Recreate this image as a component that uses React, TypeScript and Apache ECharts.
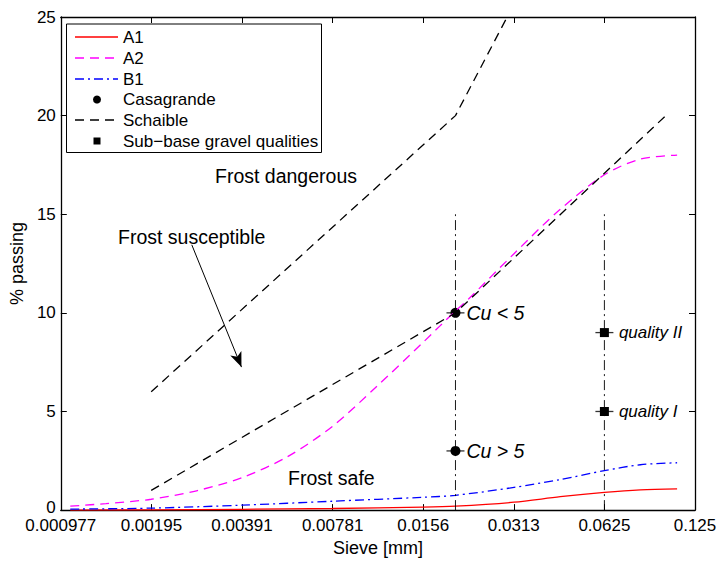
import React, { useEffect, useRef } from "react";
import * as echarts from "echarts";

// Tick labels of the log2 sieve axis (2^-10 ... 2^-3)
const xTickLabels = ["0.000977", "0.00195", "0.00391", "0.00781", "0.0156", "0.0313", "0.0625", "0.125"];

// A2 grading curve
const sieveA2 = [0.00105, 0.00138, 0.00195, 0.00276, 0.00391, 0.00552, 0.00781, 0.011, 0.0156, 0.02, 0.0221, 0.0313, 0.0442, 0.0625, 0.0825, 0.109];
const passingA2 = [0.2, 0.33, 0.55, 0.98, 1.65, 2.7, 4.25, 6.3, 8.5, 10.1, 10.7, 13.0, 15.2, 17.0, 17.8, 18.0];

// A1 and B1 grading curves
const sieveA1B1 = [0.00105, 0.00195, 0.00391, 0.00781, 0.0156, 0.02, 0.0313, 0.0446, 0.0625, 0.0823, 0.109];
const passingA1 = [0, 0.01, 0.04, 0.08, 0.15, 0.2, 0.4, 0.68, 0.9, 1.03, 1.08];
const passingB1 = [0.05, 0.1, 0.25, 0.45, 0.65, 0.75, 1.15, 1.55, 2.0, 2.3, 2.4];

// Casagrande criteria points
const casaSieve = [0.02, 0.02];
const casaPassing = [10, 3];
const casaLabels = ["Cu < 5", "Cu > 5"];

// Sub-base gravel quality points
const qualSieve = [0.0625, 0.0625];
const qualPassing = [9, 5];
const qualLabels = ["quality II", "quality I"];

// Schaible boundary lines
const schUpperSieve = [0.00195, 0.02, 0.0297];
const schUpperPassing = [6, 20, 25];
const schLowerSieve = [0.00195, 0.02, 0.1];
const schLowerPassing = [1, 10, 20];

// Vertical reference lines
const vlineSieve = [0.02, 0.0625];
const vlineRange = [0, 15];

// Arrow (Frost susceptible)
const arrowFrom = [0.00266, 13.45];
const arrowTo = [0.00389, 7.25];

const pair = (xs: number[], ys: number[]) => xs.map((x, i) => [x, ys[i]]);

export default function App() {
  const ref = useRef<HTMLDivElement>(null);
  useEffect(() => {
    const chart = echarts.init(ref.current!, null, { renderer: "svg" });
    const font = "'Liberation Sans', Arial, Helvetica, sans-serif";
    const axisLine = { show: true, onZero: false, lineStyle: { color: "#000", width: 1.3 } };
    const axisTick = { show: true, inside: true, length: 6, lineStyle: { color: "#000", width: 1 } };
    const xBase: any = {
      type: "log",
      logBase: 2,
      min: Math.pow(2, -10),
      max: 0.125,
      splitLine: { show: false },
      minorTick: { show: false },
      axisLine,
      axisTick,
    };
    const yBase: any = {
      type: "value",
      min: 0,
      max: 25,
      interval: 5,
      splitLine: { show: false },
      axisLine,
      axisTick,
    };

    const legendRows = [37, 58, 79, 99.5, 120, 141];
    const legendNames = ["A1", "A2", "B1", "Casagrande", "Schaible", "Sub\u2212base gravel qualities"];
    const legendEls: any[] = [
      { type: "rect", shape: { x: 66.5, y: 24, width: 255, height: 128.5 }, style: { fill: "#fff", stroke: "#000", lineWidth: 1 }, z: 100 },
      { type: "line", shape: { x1: 75, y1: legendRows[0], x2: 118, y2: legendRows[0] }, style: { stroke: "#ff0000", lineWidth: 1.3 }, z: 101 },
      { type: "line", shape: { x1: 75, y1: legendRows[1], x2: 118, y2: legendRows[1] }, style: { stroke: "#ff00ff", lineWidth: 1.3, lineDash: [9, 6] }, z: 101 },
      { type: "line", shape: { x1: 75, y1: legendRows[2], x2: 118, y2: legendRows[2] }, style: { stroke: "#0000ff", lineWidth: 1.3, lineDash: [9, 4, 2, 4] }, z: 101 },
      { type: "circle", shape: { cx: 97, cy: legendRows[3], r: 4 }, style: { fill: "#000" }, z: 101 },
      { type: "line", shape: { x1: 75, y1: legendRows[4], x2: 118, y2: legendRows[4] }, style: { stroke: "#000", lineWidth: 1.3, lineDash: [9, 6] }, z: 101 },
      { type: "rect", shape: { x: 93.5, y: legendRows[5] - 3.5, width: 7, height: 7 }, style: { fill: "#000" }, z: 101 },
    ];
    legendNames.forEach((n, i) => {
      legendEls.push({
        type: "text",
        x: 123,
        y: legendRows[i],
        style: { text: n, fontSize: 17, fontFamily: font, fill: "#000", verticalAlign: "middle", align: "left" },
        z: 101,
      });
    });

    const annot = (text: string, x: number, y: number) => ({
      type: "text",
      x,
      y,
      style: { text, fontSize: 19.5, fontFamily: font, fill: "#000", verticalAlign: "middle", align: "left" },
      z: 50,
    });

    const option: any = {
      animation: false,
      textStyle: { fontFamily: font },
      grid: { left: 60, right: 25, top: 17, bottom: 45, containLabel: false },
      xAxis: [
        {
          ...xBase,
          position: "bottom",
          name: "Sieve [mm]",
          nameLocation: "middle",
          nameGap: 26,
          nameTextStyle: { fontSize: 18, color: "#000", fontFamily: font },
          axisLabel: {
            show: true,
            margin: 7,
            fontSize: 17,
            lineHeight: 17,
            color: "#000",
            fontFamily: font,
            showMinLabel: true,
            showMaxLabel: true,
            formatter: (v: number) => {
              const i = Math.round(Math.log2(v)) + 10;
              return xTickLabels[i] ?? "";
            },
          },
        },
        { ...xBase, position: "top", axisLabel: { show: false } },
      ],
      yAxis: [
        {
          ...yBase,
          position: "left",
          name: "% passing",
          nameLocation: "middle",
          nameGap: 27,
          nameRotate: 90,
          nameTextStyle: { fontSize: 18, color: "#000", fontFamily: font },
          axisLabel: {
            show: true,
            margin: 5,
            fontSize: 17,
            lineHeight: 17,
            color: "#000",
            fontFamily: font,
            formatter: (v: number) => (v === 0 ? "{z|0}" : String(v)),
            rich: { z: { fontSize: 17, lineHeight: 17, color: "#000", fontFamily: font, padding: [0, 0, 5, 0] } },
          },
        },
        { ...yBase, position: "right", axisLabel: { show: false } },
      ],
      series: [
        {
          name: "A1",
          type: "line",
          data: pair(sieveA1B1, passingA1),
          smooth: 0.3,
          symbol: "none",
          lineStyle: { color: "#ff0000", width: 1.3 },
          silent: true,
        },
        {
          name: "A2",
          type: "line",
          data: pair(sieveA2, passingA2),
          smooth: 0.3,
          symbol: "none",
          lineStyle: { color: "#ff00ff", width: 1.3, type: [9, 6] },
          silent: true,
        },
        {
          name: "B1",
          type: "line",
          data: pair(sieveA1B1, passingB1),
          smooth: 0.3,
          symbol: "none",
          lineStyle: { color: "#0000ff", width: 1.3, type: [9, 4, 2, 4] },
          silent: true,
        },
        ...vlineSieve.map((x) => ({
          name: "limit",
          type: "line",
          data: vlineRange.map((y) => [x, y]),
          symbol: "none",
          lineStyle: { color: "#000", width: 0.9, type: [10, 4, 2, 4] },
          silent: true,
        })),
        {
          name: "Schaible",
          type: "line",
          data: pair(schUpperSieve, schUpperPassing),
          symbol: "none",
          lineStyle: { color: "#000", width: 1.3, type: [9, 6] },
          silent: true,
          markLine: {
            silent: true,
            symbol: ["none", "arrow"],
            symbolSize: [9, 15],
            label: { show: false },
            lineStyle: { color: "#000", width: 1, type: "solid" },
            itemStyle: { color: "#000" },
            data: [[{ coord: arrowFrom }, { coord: arrowTo }]],
          },
        },
        {
          name: "Schaible",
          type: "line",
          data: pair(schLowerSieve, schLowerPassing),
          symbol: "none",
          lineStyle: { color: "#000", width: 1.3, type: [9, 6] },
          silent: true,
        },
        {
          name: "bars",
          type: "scatter",
          data: [...pair(casaSieve, casaPassing), ...pair(qualSieve, qualPassing)],
          symbol: "rect",
          symbolSize: [18, 1.3],
          itemStyle: { color: "#000" },
          silent: true,
        },
        {
          name: "Casagrande",
          type: "scatter",
          data: pair(casaSieve, casaPassing),
          symbol: "circle",
          symbolSize: 10,
          itemStyle: { color: "#000", opacity: 1 },
          silent: true,
          label: {
            show: true,
            position: "right",
            distance: 6,
            formatter: (p: any) => casaLabels[p.dataIndex],
            fontStyle: "italic",
            fontSize: 19.5,
            color: "#000",
            opacity: 1,
            fontFamily: font,
          },
        },
        {
          name: "Sub-base gravel qualities",
          type: "scatter",
          data: pair(qualSieve, qualPassing),
          symbol: "rect",
          symbolSize: 9,
          itemStyle: { color: "#000", opacity: 1 },
          silent: true,
          label: {
            show: true,
            position: "right",
            distance: 10,
            formatter: (p: any) => qualLabels[p.dataIndex],
            fontStyle: "italic",
            fontSize: 17,
            color: "#000",
            opacity: 1,
            fontFamily: font,
          },
        },
      ],
      graphic: [
        annot("Frost dangerous", 215, 176),
        annot("Frost susceptible", 118, 237),
        annot("Frost safe", 288, 478),
        ...legendEls,
      ],
    };
    chart.setOption(option);
    return () => chart.dispose();
  }, []);
  return <div ref={ref} style={{ position: "absolute", left: 0, top: 0, width: 720, height: 562, background: "#fff" }} />;
}
